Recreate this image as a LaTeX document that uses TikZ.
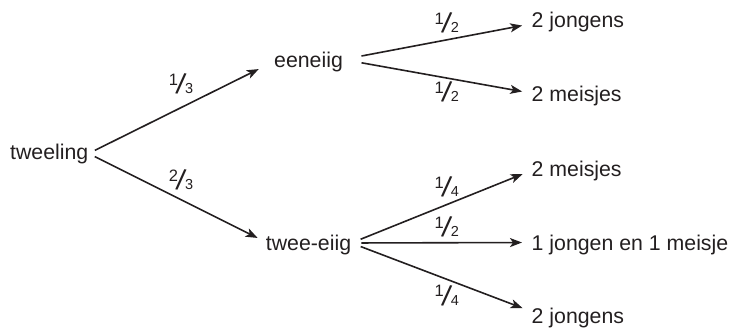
\documentclass[tikz,border=0pt]{standalone}
\usepackage{fontspec}
\setmainfont{Liberation Sans}
\usetikzlibrary{arrows.meta}
\definecolor{txt}{HTML}{231F20}
\newcommand{\fr}[2]{{\fontsize{16.5}{16}\selectfont\raisebox{8.5pt}{#1}}\kern-2.6pt{\fontsize{29}{29}\selectfont\rotatebox{-9}{/}}\kern-1.6pt{\fontsize{14.5}{14}\selectfont #2}}
\begin{document}
\begin{tikzpicture}[x=1pt,y=-1pt,
  lbl/.style={inner sep=0pt, anchor=base west, font=\fontsize{21.3}{24}\selectfont, text=txt},
  frac/.style={inner sep=0pt, text=txt},
  arr/.style={line width=1.6pt, draw=txt, -{Stealth[length=12pt,width=9pt,inset=3pt]}}]
\useasboundingbox (0,0) rectangle (729,327);
\node[lbl] (tw) at (10,159) {tweeling};
\node[lbl] (ee) at (274,67) {eeneiig};
\node[lbl] (te) at (265.7,250.5) {twee-eiig};
\node[lbl] (j1) at (531.5,27.3) {2 jongens};
\node[lbl] (m1) at (531.5,101.7) {2 meisjes};
\node[lbl] (m2) at (531.5,176) {2 meisjes};
\node[lbl] (jm) at (531.5,250) {1 jongen en 1 meisje};
\node[lbl] (j2) at (531.5,323) {2 jongens};

\draw[arr, shorten <=7pt, shorten >=17pt] (tw.east) -- (ee.west);
\draw[arr, shorten <=7pt, shorten >=9pt] (tw.east) -- ([yshift=3pt]te.west);
\draw[arr, shorten <=18.7pt, shorten >=9.5pt] ([yshift=2pt]ee.east) -- ([yshift=-2pt]j1.west);
\draw[arr, shorten <=18.7pt, shorten >=9.5pt] ([yshift=2pt]ee.east) -- ([yshift=3pt]m1.west);
\draw[arr, shorten <=10pt, shorten >=9.5pt] ([yshift=2pt]te.east) -- (m2.west);
\draw[arr, shorten <=10pt, shorten >=9.5pt] ([yshift=2pt]te.east) -- ([yshift=2pt]jm.west);
\draw[arr, shorten <=10pt, shorten >=9.5pt] ([yshift=2pt]te.east) -- ([yshift=6pt]j2.west);

\node[frac] (f1) at (181,84) {\fr{1}{3}};
\node[frac] (f2) at (181,180) {\fr{2}{3}};
\node[frac] (f3) at (446.7,23) {\fr{1}{2}};
\node[frac] (f4) at (446.7,92) {\fr{1}{2}};
\node[frac] (f5) at (446.7,187) {\fr{1}{4}};
\node[frac] (f6) at (446.7,227) {\fr{1}{2}};
\node[frac] (f7) at (446.7,295.5) {\fr{1}{4}};
\end{tikzpicture}
\end{document}
